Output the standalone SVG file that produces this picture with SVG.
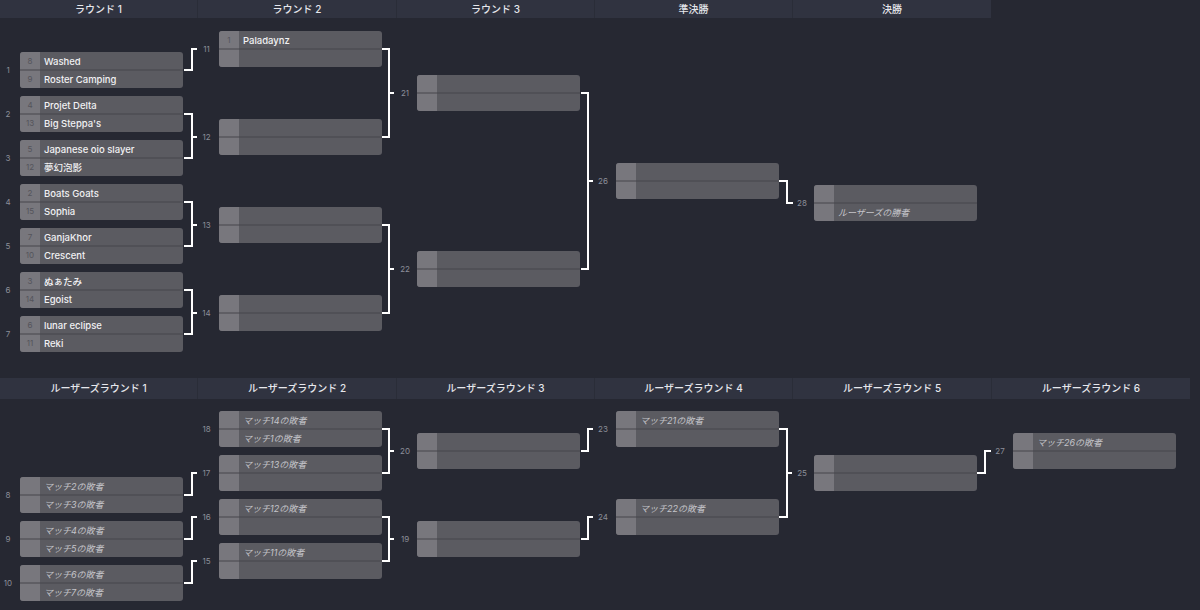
<svg xmlns="http://www.w3.org/2000/svg" xmlns:xlink="http://www.w3.org/1999/xlink" width="1200" height="610" viewBox="0 0 1200 610">
<style>
.hd{font-family:Inter,"Noto Sans CJK JP",sans-serif;font-size:10px;font-weight:500;fill:#e6e7ec;text-anchor:middle}
.hb{fill:#303340}
.hg{fill:#2a2d38}
.nm{font-family:Inter,"Noto Sans CJK JP",sans-serif;font-size:9.5px;font-weight:500;fill:#f1f1f3}
.ph{font-family:Inter,"Noto Sans CJK JP",sans-serif;font-size:9px;font-style:italic;fill:#c4c4c9}
.sd{font-family:Inter,sans-serif;font-size:8px;fill:#54545b;text-anchor:middle}
.lb{font-family:Inter,sans-serif;font-size:8px;fill:#8c8f99;text-anchor:middle}
.cn{fill:none;stroke:#ffffff;stroke-width:2;stroke-linejoin:miter}
</style>
<defs>
<g id="box">
<rect width="163" height="36" rx="3" fill="#5b5b61"/>
<path d="M3,0 H20 V36 H3 A3,3 0 0 1 0,33 V3 A3,3 0 0 1 3,0 Z" fill="#78777d"/>
<rect x="0" y="17.5" width="163" height="1" fill="#46464c"/>
</g>
</defs>
<rect width="1200" height="610" fill="#262832"/>

<g id="headers-top">
<rect class="hg" x="0" y="0" width="991" height="18"/>
<rect class="hb" x="0" y="0" width="197" height="18"/>
<rect class="hb" x="198" y="0" width="198" height="18"/>
<rect class="hb" x="397" y="0" width="197" height="18"/>
<rect class="hb" x="595" y="0" width="197" height="18"/>
<rect class="hb" x="793" y="0" width="198" height="18"/>
<text class="hd" x="98.5" y="12.5">ラウンド 1</text>
<text class="hd" x="297" y="12.5">ラウンド 2</text>
<text class="hd" x="495.5" y="12.5">ラウンド 3</text>
<text class="hd" x="693.5" y="12.5">準決勝</text>
<text class="hd" x="892" y="12.5">決勝</text>
</g>

<g id="headers-losers">
<rect class="hg" x="0" y="378" width="1190" height="21"/>
<rect class="hb" x="0" y="378" width="197" height="21"/>
<rect class="hb" x="198" y="378" width="198" height="21"/>
<rect class="hb" x="397" y="378" width="197" height="21"/>
<rect class="hb" x="595" y="378" width="197" height="21"/>
<rect class="hb" x="793" y="378" width="198" height="21"/>
<rect class="hb" x="992" y="378" width="198" height="21"/>
<text class="hd" x="98.5" y="392">ルーザーズラウンド 1</text>
<text class="hd" x="297" y="392">ルーザーズラウンド 2</text>
<text class="hd" x="495.5" y="392">ルーザーズラウンド 3</text>
<text class="hd" x="693.5" y="392">ルーザーズラウンド 4</text>
<text class="hd" x="892" y="392">ルーザーズラウンド 5</text>
<text class="hd" x="1091" y="392">ルーザーズラウンド 6</text>
</g>

<g id="connectors">
<path class="cn" d="M184,70 H192 V49 H197"/>
<path class="cn" d="M184,114 H192 V158 H184 M192,137 H197"/>
<path class="cn" d="M184,202 H192 V246 H184 M192,225 H197"/>
<path class="cn" d="M184,290 H192 V334 H184 M192,313 H197"/>
<path class="cn" d="M382,49 H389 V137 H382 M389,93 H394"/>
<path class="cn" d="M382,225 H389 V313 H382 M389,269 H394"/>
<path class="cn" d="M581,93 H588 V269 H581 M588,181 H593"/>
<path class="cn" d="M779,181 H787 V203 H793"/>
<path class="cn" d="M184,495 H192 V473 H197"/>
<path class="cn" d="M184,539 H192 V517 H197"/>
<path class="cn" d="M184,583 H192 V561 H197"/>
<path class="cn" d="M382,429 H389 V473 H382 M389,451 H394"/>
<path class="cn" d="M382,517 H389 V561 H382 M389,539 H394"/>
<path class="cn" d="M581,451 H588 V429 H593"/>
<path class="cn" d="M581,539 H588 V517 H593"/>
<path class="cn" d="M779,429 H787 V517 H779 M787,473 H792"/>
<path class="cn" d="M977,473 H985 V451 H991"/>
</g>

<g id="m1" transform="translate(20,52)"><use xlink:href="#box"/><text class="lb" x="-12" y="21">1</text><text class="sd" x="10" y="12">8</text><text class="nm" x="24" y="12.5">Washed</text><text class="sd" x="10" y="30">9</text><text class="nm" x="24" y="30.5">Roster Camping</text></g>
<g id="m2" transform="translate(20,96)"><use xlink:href="#box"/><text class="lb" x="-12" y="21">2</text><text class="sd" x="10" y="12">4</text><text class="nm" x="24" y="12.5">Projet Delta</text><text class="sd" x="10" y="30">13</text><text class="nm" x="24" y="30.5">Big Steppa's</text></g>
<g id="m3" transform="translate(20,140)"><use xlink:href="#box"/><text class="lb" x="-12" y="21">3</text><text class="sd" x="10" y="12">5</text><text class="nm" x="24" y="12.5">Japanese oio slayer</text><text class="sd" x="10" y="30">12</text><text class="nm" x="24" y="30.5">夢幻泡影</text></g>
<g id="m4" transform="translate(20,184)"><use xlink:href="#box"/><text class="lb" x="-12" y="21">4</text><text class="sd" x="10" y="12">2</text><text class="nm" x="24" y="12.5">Boats Goats</text><text class="sd" x="10" y="30">15</text><text class="nm" x="24" y="30.5">Sophia</text></g>
<g id="m5" transform="translate(20,228)"><use xlink:href="#box"/><text class="lb" x="-12" y="21">5</text><text class="sd" x="10" y="12">7</text><text class="nm" x="24" y="12.5">GanjaKhor</text><text class="sd" x="10" y="30">10</text><text class="nm" x="24" y="30.5">Crescent</text></g>
<g id="m6" transform="translate(20,272)"><use xlink:href="#box"/><text class="lb" x="-12" y="21">6</text><text class="sd" x="10" y="12">3</text><text class="nm" x="24" y="12.5">ぬぁたみ</text><text class="sd" x="10" y="30">14</text><text class="nm" x="24" y="30.5">Egoist</text></g>
<g id="m7" transform="translate(20,316)"><use xlink:href="#box"/><text class="lb" x="-12" y="21">7</text><text class="sd" x="10" y="12">6</text><text class="nm" x="24" y="12.5">lunar eclipse</text><text class="sd" x="10" y="30">11</text><text class="nm" x="24" y="30.5">Reki</text></g>

<g id="m11" transform="translate(219,31)"><use xlink:href="#box"/><text class="lb" x="-12.5" y="21">11</text><text class="sd" x="10" y="12">1</text><text class="nm" x="24" y="12.5">Paladaynz</text></g>
<g id="m12" transform="translate(219,119)"><use xlink:href="#box"/><text class="lb" x="-12.5" y="21">12</text></g>
<g id="m13" transform="translate(219,207)"><use xlink:href="#box"/><text class="lb" x="-12.5" y="21">13</text></g>
<g id="m14" transform="translate(219,295)"><use xlink:href="#box"/><text class="lb" x="-12.5" y="21">14</text></g>

<g id="m21" transform="translate(417,75)"><use xlink:href="#box"/><text class="lb" x="-12" y="21">21</text></g>
<g id="m22" transform="translate(417,251)"><use xlink:href="#box"/><text class="lb" x="-12" y="21">22</text></g>

<g id="m26" transform="translate(616,163)"><use xlink:href="#box"/><text class="lb" x="-13" y="21">26</text></g>
<g id="m28" transform="translate(814,185)"><use xlink:href="#box"/><text class="lb" x="-12" y="21">28</text><text class="ph" x="24" y="30.5">ルーザーズの勝者</text></g>

<g id="m8" transform="translate(20,477)"><use xlink:href="#box"/><text class="lb" x="-12" y="21">8</text><text class="ph" x="24" y="12.5">マッチ2の敗者</text><text class="ph" x="24" y="30.5">マッチ3の敗者</text></g>
<g id="m9" transform="translate(20,521)"><use xlink:href="#box"/><text class="lb" x="-12" y="21">9</text><text class="ph" x="24" y="12.5">マッチ4の敗者</text><text class="ph" x="24" y="30.5">マッチ5の敗者</text></g>
<g id="m10" transform="translate(20,565)"><use xlink:href="#box"/><text class="lb" x="-12" y="21">10</text><text class="ph" x="24" y="12.5">マッチ6の敗者</text><text class="ph" x="24" y="30.5">マッチ7の敗者</text></g>

<g id="m18" transform="translate(219,411)"><use xlink:href="#box"/><text class="lb" x="-12.5" y="21">18</text><text class="ph" x="24" y="12.5">マッチ14の敗者</text><text class="ph" x="24" y="30.5">マッチ1の敗者</text></g>
<g id="m17" transform="translate(219,455)"><use xlink:href="#box"/><text class="lb" x="-12.5" y="21">17</text><text class="ph" x="24" y="12.5">マッチ13の敗者</text></g>
<g id="m16" transform="translate(219,499)"><use xlink:href="#box"/><text class="lb" x="-12.5" y="21">16</text><text class="ph" x="24" y="12.5">マッチ12の敗者</text></g>
<g id="m15" transform="translate(219,543)"><use xlink:href="#box"/><text class="lb" x="-12.5" y="21">15</text><text class="ph" x="24" y="12.5">マッチ11の敗者</text></g>

<g id="m20" transform="translate(417,433)"><use xlink:href="#box"/><text class="lb" x="-12" y="21">20</text></g>
<g id="m19" transform="translate(417,521)"><use xlink:href="#box"/><text class="lb" x="-12" y="21">19</text></g>

<g id="m23" transform="translate(616,411)"><use xlink:href="#box"/><text class="lb" x="-13" y="21">23</text><text class="ph" x="24" y="12.5">マッチ21の敗者</text></g>
<g id="m24" transform="translate(616,499)"><use xlink:href="#box"/><text class="lb" x="-13" y="21">24</text><text class="ph" x="24" y="12.5">マッチ22の敗者</text></g>

<g id="m25" transform="translate(814,455)"><use xlink:href="#box"/><text class="lb" x="-12" y="21">25</text></g>
<g id="m27" transform="translate(1013,433)"><use xlink:href="#box"/><text class="lb" x="-13" y="21">27</text><text class="ph" x="24" y="12.5">マッチ26の敗者</text></g>
</svg>
